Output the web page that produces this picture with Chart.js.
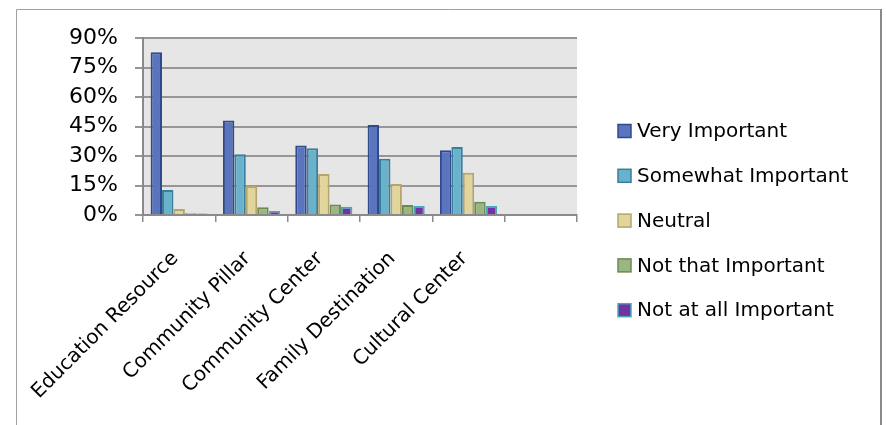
<!DOCTYPE html>
<html>
<head>
<meta charset="utf-8">
<script src="https://cdn.jsdelivr.net/npm/chart.js@4"></script>
<style>
  body { margin: 0; background: #fff; }
  #wrap { width: 886px; height: 425px; }
</style>
</head>
<body>
<div id="wrap"><canvas id="importanceChart"></canvas></div>
<script>
// categories (last slot is empty in the original chart)
const categories = ['Education Resource', 'Community Pillar', 'Community Center', 'Family Destination', 'Cultural Center', ''];

// percent of responses
const veryImportant     = [82.7, 48.0, 35.4, 45.8, 32.9, null];
const somewhatImportant = [12.7, 30.9, 33.9, 28.6, 34.6, null];
const neutral           = [3.0, 14.7, 20.8, 15.8, 21.5, null];
const notThatImportant  = [0.9, 3.9, 5.4, 5.1, 6.8, null];
const notAtAllImportant = [0.8, 2.0, 4.2, 4.6, 4.6, null];

const yTicks = [0, 15, 30, 45, 60, 75, 90];

const fontName = "'DejaVu Sans', sans-serif";

// grey plot background + outer frame
const backdrop = {
    id: 'backdrop',
    beforeDraw(chart) {
        const { ctx, chartArea } = chart;
        ctx.save();
        ctx.fillStyle = '#e6e6e6';
        ctx.fillRect(chartArea.left, chartArea.top, chartArea.right - chartArea.left, chartArea.bottom - chartArea.top);
        ctx.strokeStyle = '#a0a0a0';
        ctx.lineWidth = 1;
        ctx.beginPath();
        ctx.moveTo(16.5, 430);
        ctx.lineTo(16.5, 9.5);
        ctx.lineTo(880, 9.5);
        ctx.stroke();
        ctx.strokeStyle = '#8a8a8a';
        ctx.lineWidth = 2;
        ctx.beginPath();
        ctx.moveTo(881, 9);
        ctx.lineTo(881, 430);
        ctx.stroke();
        ctx.restore();
    }
};

// legend on the right, one entry per dataset (built-in legend is capped in width)
const sideLegend = {
    id: 'sideLegend',
    afterDraw(chart) {
        const { ctx } = chart;
        const boxX = 618, boxSize = 13, textX = 637, firstY = 131, step = 44.8;
        ctx.save();
        ctx.font = '20px ' + fontName;
        ctx.textBaseline = 'middle';
        ctx.textAlign = 'left';
        chart.data.datasets.forEach((ds, i) => {
            const cy = firstY + i * step;
            ctx.fillStyle = ds.backgroundColor;
            ctx.fillRect(boxX, cy - boxSize / 2, boxSize, boxSize);
            ctx.strokeStyle = ds.borderColor;
            ctx.lineWidth = 1.5;
            ctx.strokeRect(boxX, cy - boxSize / 2, boxSize, boxSize);
            ctx.fillStyle = '#000';
            ctx.fillText(ds.label, textX, cy + 1);
        });
        ctx.restore();
    }
};

const ctx = document.getElementById('importanceChart').getContext('2d');
new Chart(ctx, {
    type: 'bar',
    data: {
        labels: categories,
        datasets: [
            { label: 'Very Important', data: veryImportant, backgroundColor: '#5a74be', borderColor: '#2f4a8a' },
            { label: 'Somewhat Important', data: somewhatImportant, backgroundColor: '#68b2cb', borderColor: '#3a7d9c' },
            { label: 'Neutral', data: neutral, backgroundColor: '#e2d59b', borderColor: '#b3a56b' },
            { label: 'Not that Important', data: notThatImportant, backgroundColor: '#9cb682', borderColor: '#6c8954' },
            { label: 'Not at all Important', data: notAtAllImportant, backgroundColor: '#7132a2', borderColor: '#4ba7c0' }
        ]
    },
    options: {
        responsive: true,
        maintainAspectRatio: false,
        animation: false,
        datasets: {
            bar: { borderWidth: 2, categoryPercentage: 0.79, barPercentage: 1.0 }
        },
        layout: { padding: { top: 38, right: 309, bottom: 22, left: 0 } },
        scales: {
            x: {
                grid: { display: true, drawOnChartArea: false, drawTicks: true, tickLength: 7, color: '#8a8a8a', lineWidth: 1.5, offset: true },
                border: { color: '#8a8a8a', width: 2 },
                ticks: {
                    color: '#000',
                    font: { family: fontName, size: 20 },
                    maxRotation: 45,
                    minRotation: 45,
                    padding: 25,
                    labelOffset: -4,
                    autoSkip: false
                },
                afterFit(scale) { scale.height = 188; }
            },
            y: {
                min: 0,
                max: 90,
                afterBuildTicks(scale) { scale.ticks = yTicks.map(v => ({ value: v })); },
                grid: { color: '#969696', lineWidth: 2, tickLength: 8 },
                border: { color: '#8a8a8a', width: 2 },
                ticks: {
                    color: '#000',
                    font: { family: fontName, size: 22 },
                    padding: 17,
                    callback: v => v + '%'
                },
                afterFit(scale) { scale.width = 143; }
            }
        },
        plugins: {
            legend: { display: false },
            tooltip: { enabled: false }
        }
    },
    plugins: [backdrop, sideLegend]
});
</script>
</body>
</html>
